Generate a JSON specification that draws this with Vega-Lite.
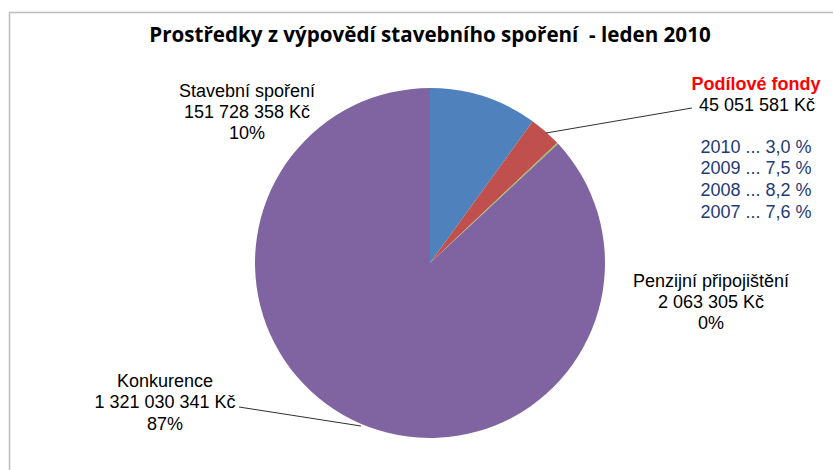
{
  "$schema": "https://vega.github.io/schema/vega-lite/v6.json",
  "width": 806,
  "height": 414,
  "autosize": {"type": "none"},
  "padding": {"left": 27, "top": 56, "right": 0, "bottom": 0},
  "background": "#ffffff",
  "config": {"view": {"stroke": null}},
  "title": {
    "text": "Prostředky z výpovědí stavebního spoření \u00a0- leden 2010",
    "font": "Open Sans",
    "fontSize": 20.6,
    "fontWeight": "bold",
    "color": "#000000",
    "anchor": "middle",
    "offset": -35
  },
  "data": {
    "values": [
      {"kategorie": "Stavební spoření", "castka": 151728358, "poradi": 1, "popisek": ["Stavební spoření", "151 728 358 Kč", "10%"]},
      {"kategorie": "Podílové fondy", "castka": 45051581, "poradi": 2, "popisek": ["45 051 581 Kč"], "vynosy": ["2010 ... 3,0 %", "2009 ... 7,5 %", "2008 ... 8,2 %", "2007 ... 7,6 %"]},
      {"kategorie": "Penzijní připojištění", "castka": 2063305, "poradi": 3, "popisek": ["Penzijní připojištění", "2 063 305 Kč", "0%"]},
      {"kategorie": "Konkurence", "castka": 1321030341, "poradi": 4, "popisek": ["Konkurence", "1 321 030 341 Kč", "87%"]}
    ]
  },
  "layer": [
    {
      "data": {"values": [{}]},
      "mark": {"type": "rect", "x": -17.5, "y": -43.5, "x2": 900, "y2": 600, "fill": null, "stroke": "#BDBDBD", "strokeWidth": 1.5},
      "encoding": {}
    },
    {
      "mark": {"type": "arc", "radius": 175},
      "encoding": {
        "theta": {"field": "castka", "type": "quantitative", "stack": true},
        "order": {"field": "poradi", "type": "quantitative"},
        "color": {
          "field": "kategorie",
          "type": "nominal",
          "scale": {
            "domain": ["Stavební spoření", "Podílové fondy", "Penzijní připojištění", "Konkurence"],
            "range": ["#4F81BD", "#C0504D", "#9BBB59", "#8064A2"]
          },
          "legend": null
        }
      }
    },
    {
      "data": {"values": [{}]},
      "mark": {"type": "rule", "stroke": "#303030", "strokeWidth": 1},
      "encoding": {"x": {"value": 519}, "y": {"value": 77}, "x2": {"value": 665}, "y2": {"value": 52}}
    },
    {
      "data": {"values": [{}]},
      "mark": {"type": "rule", "stroke": "#303030", "strokeWidth": 1},
      "encoding": {"x": {"value": 212}, "y": {"value": 351}, "x2": {"value": 334}, "y2": {"value": 370}}
    },
    {
      "transform": [{"filter": "datum.kategorie === 'Stavební spoření'"}],
      "mark": {"type": "text", "x": 220, "y": 40.5, "align": "center", "baseline": "alphabetic", "font": "Liberation Sans", "fontSize": 18, "lineHeight": 21, "color": "#000000"},
      "encoding": {"text": {"field": "popisek", "type": "nominal"}}
    },
    {
      "transform": [{"filter": "datum.kategorie === 'Penzijní připojištění'"}],
      "mark": {"type": "text", "x": 684, "y": 230.5, "align": "center", "baseline": "alphabetic", "font": "Liberation Sans", "fontSize": 18, "lineHeight": 21, "color": "#000000"},
      "encoding": {"text": {"field": "popisek", "type": "nominal"}}
    },
    {
      "transform": [{"filter": "datum.kategorie === 'Konkurence'"}],
      "mark": {"type": "text", "x": 138, "y": 330.5, "align": "center", "baseline": "alphabetic", "font": "Liberation Sans", "fontSize": 18, "lineHeight": 21.5, "color": "#000000"},
      "encoding": {"text": {"field": "popisek", "type": "nominal"}}
    },
    {
      "transform": [{"filter": "datum.kategorie === 'Podílové fondy'"}],
      "mark": {"type": "text", "x": 729, "y": 33.5, "align": "center", "baseline": "alphabetic", "font": "Liberation Sans", "fontSize": 18, "fontWeight": "bold", "color": "#FF0000"},
      "encoding": {"text": {"field": "kategorie", "type": "nominal"}}
    },
    {
      "transform": [{"filter": "datum.kategorie === 'Podílové fondy'"}],
      "mark": {"type": "text", "x": 730, "y": 54.5, "align": "center", "baseline": "alphabetic", "font": "Liberation Sans", "fontSize": 18, "color": "#000000"},
      "encoding": {"text": {"field": "popisek", "type": "nominal"}}
    },
    {
      "transform": [{"filter": "datum.kategorie === 'Podílové fondy'"}],
      "mark": {"type": "text", "x": 729, "y": 96.5, "align": "center", "baseline": "alphabetic", "font": "Liberation Sans", "fontSize": 18, "lineHeight": 21.7, "color": "#1F3A78"},
      "encoding": {"text": {"field": "vynosy", "type": "nominal"}}
    }
  ]
}
